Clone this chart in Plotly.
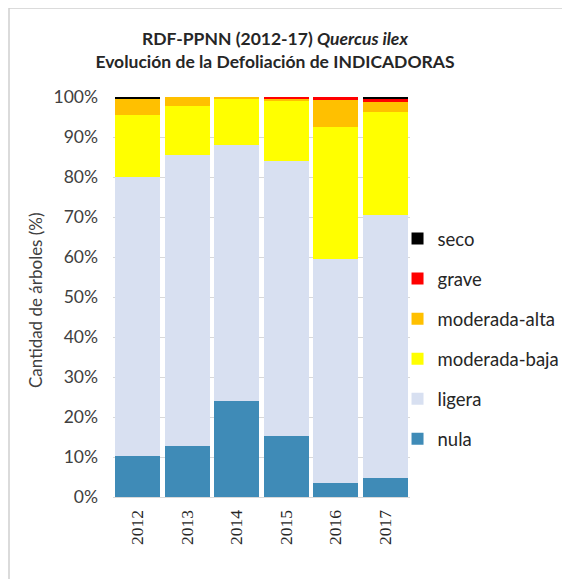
import plotly.graph_objects as go

years = ["2012", "2013", "2014", "2015", "2016", "2017"]
nula = [10.3, 12.8, 24.0, 15.2, 3.6, 4.75]
ligera = [69.8, 72.7, 63.9, 68.8, 56.0, 65.75]
moderada_baja = [15.5, 12.15, 11.5, 14.9, 32.8, 25.8]
moderada_alta = [3.9, 2.35, 0.6, 0.6, 6.8, 2.5]
grave = [0.0, 0.0, 0.0, 0.5, 0.8, 0.7]
seco = [0.5, 0.0, 0.0, 0.0, 0.0, 0.5]
y_ticks = list(range(0, 101, 10))
y_ticklabels = [f"{v}%" for v in y_ticks]

series = [
    ("nula", nula, "#3F8BB7"),
    ("ligera", ligera, "#D8E0F1"),
    ("moderada-baja", moderada_baja, "#FFFF00"),
    ("moderada-alta", moderada_alta, "#FFC000"),
    ("grave", grave, "#FF0000"),
    ("seco", seco, "#000000"),
]

font_family = "Lato, 'Noto Sans', sans-serif"

fig = go.Figure()
n = len(series)
for i, (name, vals, color) in enumerate(series):
    fig.add_trace(go.Bar(
        x=years, y=vals, name=name, legendgroup=name, legendrank=n - i,
        marker=dict(color=color, line=dict(width=0)),
    ))

# page body has an 8px margin; figure coordinates are page coordinates minus 8
FW, FH = 562, 571
L, T, W, H = 105, 89, 297, 400

fig.update_layout(
    width=FW, height=FH,
    barmode="stack", bargap=0.1,
    paper_bgcolor="white", plot_bgcolor="white",
    margin=dict(l=L, r=FW - L - W, t=T, b=FH - T - H, autoexpand=False),
    font=dict(family=font_family, size=17, color="#404040"),
    title=dict(
        text="<b>RDF-PPNN (2012-17) <i>Quercus ilex</i></b><br><b>Evolución de la Defoliación de INDICADORAS</b>",
        x=(275 - 8) / FW, xanchor="center", y=1 - 37 / FH, yanchor="top",
        font=dict(family=font_family, size=17.5, color="#262626"),
    ),
    legend=dict(
        x=0.958, xanchor="left", y=1 - (212 - T) / H, yanchor="top",
        traceorder="grouped", tracegroupgap=13,
        font=dict(family=font_family, size=18.5, color="#262626"),
        bgcolor="rgba(0,0,0,0)",
    ),
    yaxis=dict(
        range=[0, 100], tickvals=y_ticks, ticktext=y_ticklabels,
        showgrid=True, gridcolor="#D9D9D9", gridwidth=1, zeroline=False,
        showline=False, ticks="", automargin=False, ticklabelstandoff=14,
        tickfont=dict(family=font_family, size=17.5, color="#404040"),
    ),
    xaxis=dict(
        tickangle=-90, showline=True, linecolor="#D9D9D9", ticks="",
        automargin=False, ticklabelstandoff=5,
        tickfont=dict(family="'Liberation Serif', serif", size=17.5, color="#262626"),
    ),
    annotations=[dict(
        text="Cantidad de árboles (%)", textangle=-90, showarrow=False,
        xref="paper", yref="paper", x=(27 - L) / W, y=1 - (292 - T) / H,
        xanchor="center", yanchor="middle",
        font=dict(family=font_family, size=17, color="#404040"),
    )],
    shapes=[dict(
        type="rect", xref="paper", yref="paper",
        x0=(1 - L) / W, x1=(580 - L) / W,
        y0=1 - (590 - T) / H, y1=1 - (0 - T) / H,
        line=dict(color="#D0D0D0", width=1.5), fillcolor="rgba(0,0,0,0)",
        layer="below",
    )],
)

fig.write_html("out.html")
